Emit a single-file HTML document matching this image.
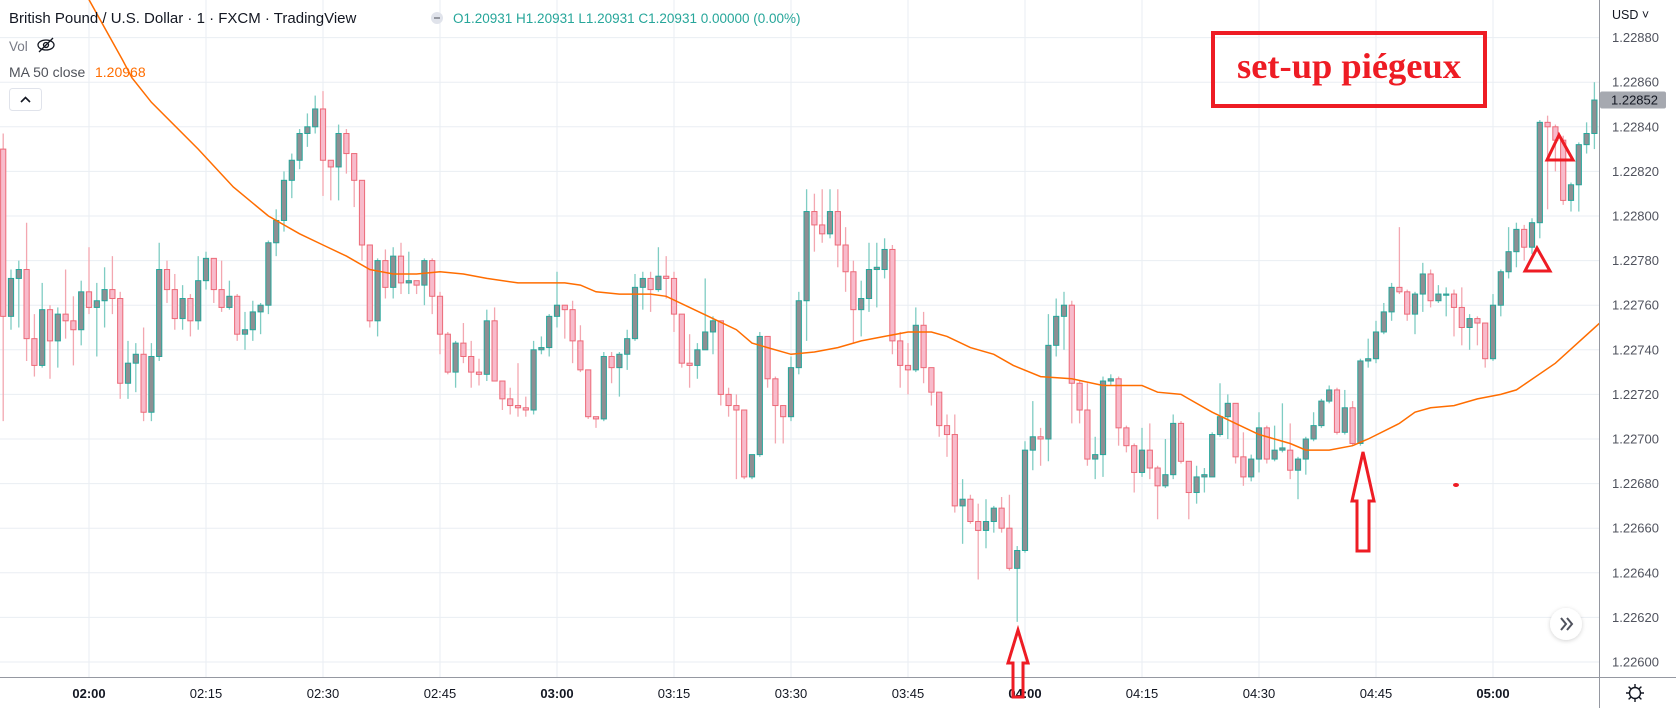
<!DOCTYPE html>
<html><head><meta charset="utf-8">
<style>
html,body{margin:0;padding:0;background:#fff;}
svg{display:block;font-family:"Liberation Sans",sans-serif;}
</style></head>
<body>
<svg id="chart" width="1676" height="708" viewBox="0 0 1676 708" xmlns="http://www.w3.org/2000/svg">
  <defs>
    <clipPath id="plotClip"><rect x="0" y="0" width="1599" height="677"/></clipPath>
    <filter id="sh" x="-50%" y="-50%" width="200%" height="200%"><feDropShadow dx="0" dy="1" stdDeviation="2" flood-color="#000" flood-opacity="0.18"/></filter>
  </defs>
  <rect x="0" y="0" width="1676" height="708" fill="#ffffff"/>
  <g id="grid"></g>
  <g id="plot" clip-path="url(#plotClip)">
    <g id="candles"></g>
    <path id="maLine" fill="none" stroke="#ff6d00" stroke-width="1.5"/>
  </g>
  <g id="annot">
    <rect x="1213" y="33" width="272" height="73" fill="none" stroke="#ee1c24" stroke-width="4"/>
    <text x="1349" y="78" text-anchor="middle" font-family="'Liberation Serif',serif" font-weight="bold" font-size="36" fill="#ee1c24" textLength="224" lengthAdjust="spacingAndGlyphs">set-up piégeux</text>
    <path d="M1018,630 L1028,663 L1023,663 L1023,697 L1013,697 L1013,663 L1008,663 Z" fill="none" stroke="#ee1c24" stroke-width="3" stroke-linejoin="miter"/>
    <path d="M1363,452 L1374,501 L1369,501 L1369,551 L1357,551 L1357,501 L1352,501 Z" fill="none" stroke="#ee1c24" stroke-width="3"/>
    <path d="M1537,248 L1550,271 L1525,271 Z" fill="none" stroke="#ee1c24" stroke-width="3"/>
    <path d="M1559,135 L1573,160 L1547,160 Z" fill="none" stroke="#ee1c24" stroke-width="3"/>
    <ellipse cx="1456" cy="485" rx="3" ry="2" fill="#ee1c24"/>
  </g>
  <g id="legend">
    <text x="9" y="23" font-size="15" fill="#131722">British Pound / U.S. Dollar · 1 · FXCM · TradingView</text>
    <circle cx="437" cy="18" r="6" fill="#e0e3eb"/>
    <rect x="434" y="17" width="6" height="2" fill="#9598a1"/>
    <text x="453" y="23" font-size="13.5" fill="#26a69a">O1.20931 H1.20931 L1.20931 C1.20931 0.00000 (0.00%)</text>
    <text x="9" y="51" font-size="13.5" fill="#787b86">Vol</text>
    <g transform="translate(46,45)">
      <ellipse cx="0" cy="0" rx="8" ry="5" fill="none" stroke="#131722" stroke-width="1.3"/>
      <circle cx="0" cy="0" r="2.5" fill="none" stroke="#131722" stroke-width="1.3"/>
      <line x1="-7" y1="7" x2="7" y2="-7" stroke="#131722" stroke-width="1.3"/>
    </g>
    <text x="9" y="77" font-size="14" fill="#131722" fill-opacity="0.75">MA 50 close</text>
    <text x="95" y="77" font-size="14" fill="#ff6d00">1.20968</text>
    <rect x="9.5" y="88.5" width="32" height="22" rx="3" fill="#fff" stroke="#e0e3eb"/>
    <path d="M21,102 L25.5,97.5 L30,102" fill="none" stroke="#131722" stroke-width="1.6"/>
  </g>
  <g id="priceAxis">
    <rect x="1599" y="0" width="77" height="677" fill="#fff"/>
    <line x1="1599.5" y1="0" x2="1599.5" y2="708" stroke="#9598a1" stroke-width="1"/>
    <text x="1612" y="19" font-size="12.5" fill="#131722">USD ˅</text>
  </g>
  <g id="timeAxis">
    <rect x="0" y="677.5" width="1599" height="31" fill="#fff"/>
    <line x1="0" y1="677.5" x2="1676" y2="677.5" stroke="#9598a1" stroke-width="1"/>
  </g>
  <g transform="translate(1635,693)">
    <circle cx="0" cy="0" r="5.5" fill="none" stroke="#131722" stroke-width="1.4"/>
    <path d="M0,-9V-6M0,6V9M-9,0H-6M6,0H9M-6.4,-6.4L-4.2,-4.2M4.2,4.2L6.4,6.4M-6.4,6.4L-4.2,4.2M4.2,-4.2L6.4,-6.4" stroke="#131722" stroke-width="1.4"/>
  </g>
  <g>
    <circle cx="1566" cy="624" r="16" fill="#fff" filter="url(#sh)"/>
    <path d="M1561,618 L1566,624 L1561,630 M1567,618 L1572,624 L1567,630" fill="none" stroke="#50535e" stroke-width="2"/>
  </g>
  <g id="lastPrice"></g>
</svg>
<script>
// prices expressed as points above 1.22000 (value = 1.22 + p/100000)
const firstMinute = -11; // minutes relative to 02:00
const opens  = [830,755,772,776,745,733,758,744,756,753,749,766,759,762,767,763,725,734,738,712,737,776,767,754,763,753,771,781,767,759,764,747,749,757,760,788,798,816,825,837,840,848,825,822,837,828,816,787,753,780,768,782,770,771,769,780,764,747,730,743,737,730,729,753,726,718,715,714,713,740,741,755,760,758,744,731,710,709,737,732,738,745,768,772,767,773,772,756,734,733,740,748,753,720,715,713,683,693,746,727,715,710,732,762,802,796,792,802,787,775,758,763,776,776,785,744,733,731,751,732,721,706,702,670,673,663,659,663,669,660,642,650,695,701,700,742,755,760,725,713,691,693,726,727,705,697,685,695,687,679,684,707,690,676,683,683,702,710,716,692,683,691,705,691,695,695,686,691,700,706,717,722,703,714,698,735,736,748,757,768,766,756,765,774,762,765,765,759,750,754,752,736,760,775,784,794,786,797,842,840,834,807,814,832,837];
const highs  = [837,776,780,797,756,770,760,759,776,764,771,786,770,777,782,766,744,743,750,743,788,780,774,769,765,782,784,781,780,771,765,757,762,761,789,803,820,828,839,846,854,856,825,841,839,828,816,787,781,785,786,788,784,771,781,781,766,748,744,752,744,736,758,759,726,723,734,719,744,746,756,775,760,762,751,731,710,739,739,739,749,774,775,775,786,782,775,756,747,743,772,755,753,723,720,713,693,748,746,728,715,737,766,812,810,812,812,812,795,780,771,788,788,790,787,748,743,759,757,732,721,711,711,682,675,671,673,670,674,675,652,699,717,705,756,763,766,762,726,725,701,728,729,728,706,698,705,707,688,700,711,708,690,688,687,703,725,720,716,703,693,712,706,706,716,707,692,701,712,718,724,723,722,717,736,745,753,761,770,795,767,766,779,776,769,768,767,768,756,755,752,765,776,795,797,796,799,843,845,841,836,815,833,842,860];
const lows   = [708,749,750,735,728,732,727,732,745,733,742,756,737,750,756,718,718,721,708,708,735,761,749,749,746,749,767,761,757,758,744,740,744,747,756,782,793,808,821,831,837,809,807,807,819,804,780,750,746,763,763,765,765,765,760,756,738,729,723,734,723,724,726,726,713,711,710,710,711,738,737,750,745,734,730,709,705,708,725,719,731,744,758,757,766,763,748,732,723,727,740,738,715,710,682,682,682,692,723,698,698,708,729,744,784,788,790,777,766,743,746,757,759,772,738,723,720,730,725,715,701,692,667,653,662,637,651,658,658,641,618,649,686,688,690,737,740,707,707,688,682,683,724,697,694,676,683,682,664,678,682,689,664,671,676,683,701,700,689,679,681,685,689,690,694,682,673,684,699,705,716,702,702,697,697,732,734,747,753,765,753,747,757,759,761,755,746,742,740,742,732,735,755,772,777,780,783,790,803,820,805,802,802,828,830];
const closes = [755,772,776,745,733,758,744,756,753,749,766,759,762,767,763,725,734,738,712,737,776,767,754,763,753,771,781,767,759,764,747,749,757,760,788,798,816,825,837,840,848,825,822,837,828,816,787,753,780,768,782,770,771,769,780,764,747,730,743,737,730,729,753,726,718,715,714,713,740,741,755,760,758,744,731,710,709,737,732,738,745,768,772,767,773,772,756,734,733,740,748,753,720,715,713,683,693,746,727,715,710,732,762,802,796,792,802,787,775,758,763,776,777,785,744,733,731,751,732,721,706,702,670,673,663,659,663,669,660,642,650,695,701,700,742,755,760,725,713,691,693,726,727,705,697,685,695,687,679,684,707,690,676,683,684,702,710,716,692,683,691,705,691,695,696,686,691,700,706,717,722,703,714,698,735,736,748,757,768,766,756,765,774,762,765,765,759,750,754,752,736,760,775,784,794,786,797,842,840,834,807,814,832,837,852];
// MA(50) line: minute (rel. 02:00) and value in points
const maMinutes = [0,4.3,5.5,8,14,18.5,23,27,30,33,36,39,42,45,48,51,55,58,61,63,65,68,72,74,77,80,83,85,87,90,93,96,99,102,105,108,110,113,116,118.5,122,126,130,135,137,140,141,144,147,150,154,156,159,162,164,168,170,172,175,178,181,183,188,194];
const maValues  = [897,870,862,851,830,813,800,792,787,782,776,774,774,775,774,772,770,770,770,769,766,765,765,764,759,754,749,743,741,738,739,741,744,746,748,748,746,741,738,733,728,727,724,724,721,720,718,712,707,702,698,695,695,697,700,707,712,714,715,718,720,722,734,753];
const priceTicks = [600,620,640,660,680,700,720,740,760,780,800,820,840,860,880];
const timeTicks = [0,15,30,45,60,75,90,105,120,135,150,165,180];
const timeTickLabels = ["02:00","02:15","02:30","02:45","03:00","03:15","03:30","03:45","04:00","04:15","04:30","04:45","05:00"];
const lastPrice = 852;

const NS = "http://www.w3.org/2000/svg";
function yOf(p){ return 662 - (p - 600) * 2.23; }
function xOf(m){ return 89 + 7.8 * m; }
function mk(tag, attrs, parent){ const e=document.createElementNS(NS,tag); for(const k in attrs) e.setAttribute(k,attrs[k]); parent.appendChild(e); return e; }

const grid = document.getElementById('grid');
priceTicks.forEach(p=>{
  const l = mk('line',{x1:0,x2:1599,y1:yOf(p),y2:yOf(p),stroke:'#eaeef3','stroke-width':1},grid);
  
  
});
timeTicks.forEach(m=>{
  const l = mk('line',{x1:xOf(m),x2:xOf(m),y1:0,y2:677,stroke:'#eaeef3','stroke-width':1},grid);
  
  
});

const cg = document.getElementById('candles');
for(let i=0;i<opens.length;i++){
  const m = firstMinute + i;
  const x = xOf(m);
  const o=opens[i], h=highs[i], l=lows[i], c=closes[i];
  const up = c >= o;
  const w = mk('line',{x1:x,x2:x,y1:yOf(h),y2:yOf(l),stroke: up?'#7fcdc3':'#f3a7b0','stroke-width':1.3},cg);
  
  
  const top = yOf(Math.max(o,c)), bot = yOf(Math.min(o,c));
  const b = mk('rect',{x:x-2.6,y:top,width:5.2,height:Math.max(bot-top,1.2),fill: up?'#8e8f93':'#f8bbcb',stroke: up?'#26a69a':'#ec6a78','stroke-width':1},cg);
  
  
}

let d='';
maMinutes.forEach((m,i)=>{ d += (i?'L':'M') + xOf(m).toFixed(1) + ',' + yOf(maValues[i]).toFixed(1); });
document.getElementById('maLine').setAttribute('d', d);

const pa = document.getElementById('priceAxis');
priceTicks.forEach(p=>{
  const t = mk('text',{x:1612,y:yOf(p)+4.5,'font-size':13,fill:'#50535e'},pa);
  t.textContent = (1.22 + p/100000).toFixed(5);
  
  
});
const lp = document.getElementById('lastPrice');
const lpr = mk('rect',{x:1600,y:yOf(lastPrice)-8.5,width:66,height:17,rx:2,fill:'#a6a9b0'},lp);


const lpt = mk('text',{x:1611,y:yOf(lastPrice)+4.5,'font-size':13,fill:'#131722'},lp);
lpt.textContent = (1.22 + lastPrice/100000).toFixed(5);



const ta = document.getElementById('timeAxis');
timeTicks.forEach((m,i)=>{
  const lab = timeTickLabels[i];
  const t = mk('text',{x:xOf(m),y:698,'font-size':13,'text-anchor':'middle',fill:'#131722','font-weight': lab.endsWith(':00')?'bold':'normal'},ta);
  t.textContent = lab;
  
  
});
// keep annotations above the time axis
const svg = document.getElementById('chart');
svg.appendChild(document.getElementById('annot'));
</script>
</body></html>
